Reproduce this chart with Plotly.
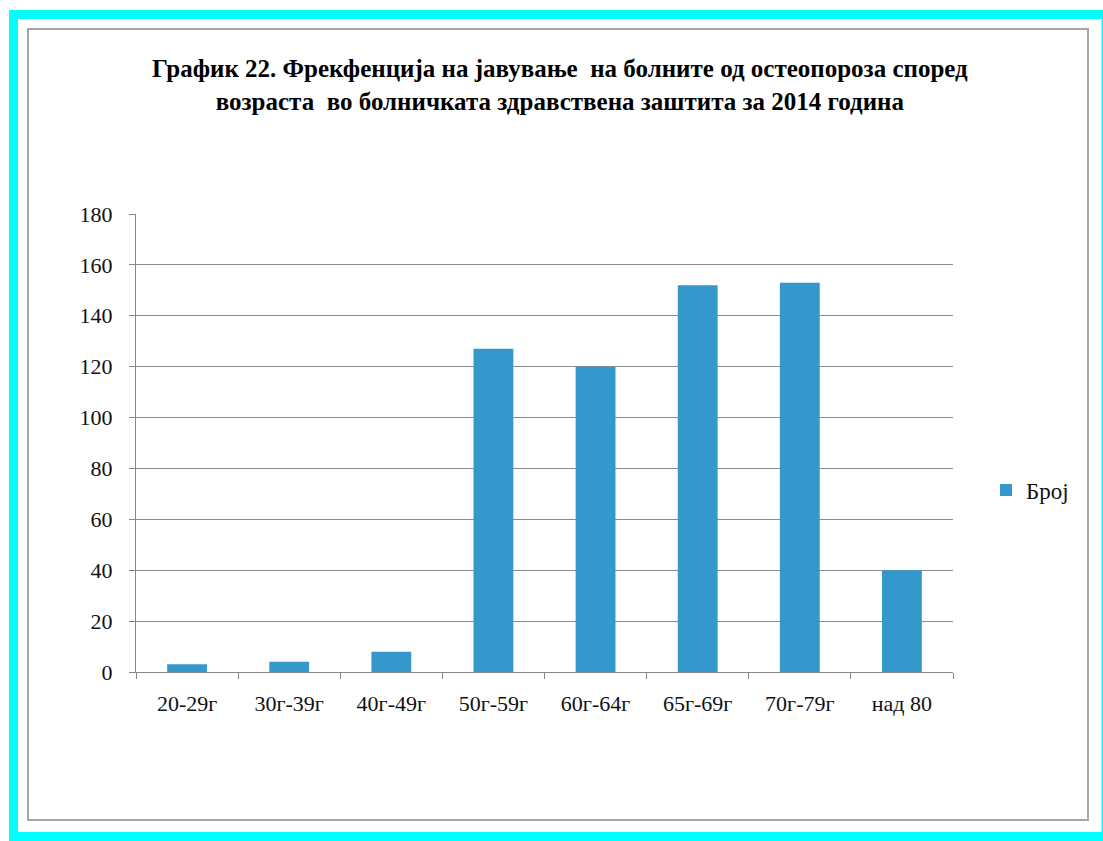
import plotly.graph_objects as go

categories = ["20-29г", "30г-39г", "40г-49г", "50г-59г", "60г-64г", "65г-69г", "70г-79г", "над 80"]
values = [3, 4, 8, 127, 120, 152, 153, 40]
series_name = "Број"
title_lines = ["График 22. Фрекфенција на јавување&nbsp; на болните од остеопороза според",
               "возраста&nbsp; во болничката здравствена заштита за 2014 година"]
y_ticks = [0, 20, 40, 60, 80, 100, 120, 140, 160, 180]

W, H = 1103, 841
ML, MR, MT, MB = 136, W - 953, 214, H - 672
PW, PH = W - ML - MR, H - MT - MB


def px(x):
    return (x - ML) / PW


def py(y):
    return (H - MB - y) / PH


SERIF = "Liberation Serif"

fig = go.Figure()
fig.add_trace(go.Bar(
    x=categories, y=values, name=series_name,
    marker=dict(color="#3598CD", line=dict(width=0)),
    showlegend=True,
))

fig.update_layout(
    width=W, height=H,
    margin=dict(l=ML, r=MR, t=MT, b=MB),
    paper_bgcolor="white", plot_bgcolor="white",
    bargap=0.61,
    showlegend=True,
    legend=dict(x=px(986), y=py(490), xanchor="left", yanchor="middle",
                font=dict(family=SERIF, size=23, color="#111"),
                bgcolor="rgba(0,0,0,0)", itemwidth=30),
    xaxis=dict(
        type="category", showgrid=False,
        showline=True, linecolor="#868686", linewidth=1,
        ticks="outside", ticklen=6, tickcolor="#868686", tickson="boundaries",
        tickfont=dict(family=SERIF, size=22, color="#111"),
        ticklabelstandoff=12,
        fixedrange=True,
    ),
    yaxis=dict(
        range=[0, 180], tickvals=y_ticks,
        showgrid=True, gridcolor="#8c8c8c", gridwidth=1,
        showline=True, linecolor="#868686", linewidth=1,
        ticks="outside", ticklen=6, tickcolor="#868686",
        tickfont=dict(family=SERIF, size=22, color="#111"),
        ticklabelstandoff=12,
        zeroline=False,
    ),
    shapes=[
        dict(type="rect", xref="paper", yref="paper", layer="below",
             x0=px(13.5), x1=px(1106), y0=py(14.5), y1=py(836.5),
             line=dict(color="#00FFFF", width=9), fillcolor="rgba(0,0,0,0)"),
        dict(type="rect", xref="paper", yref="paper", layer="below",
             x0=px(28), x1=px(1088), y0=py(29), y1=py(820),
             line=dict(color="#a6a6a6", width=2), fillcolor="white"),
    ],
    annotations=[
        dict(xref="paper", yref="paper", x=px(560), y=py(85), xanchor="center", yanchor="middle",
             text="<b>" + "<br>".join(title_lines) + "</b>", showarrow=False, align="center",
             font=dict(family=SERIF, size=25, color="#000")),
    ],
)

fig.write_html("out.html", config={"displayModeBar": False},
               post_script="document.body.style.margin='0';document.body.style.overflow='hidden';")
